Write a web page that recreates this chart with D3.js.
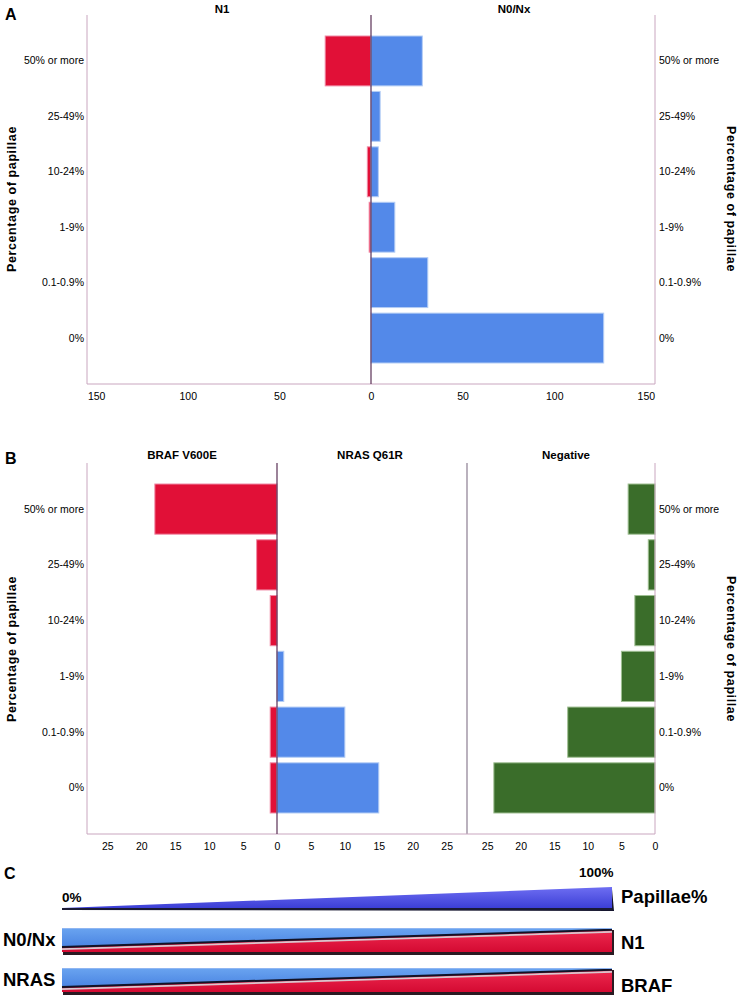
<!DOCTYPE html>
<html><head><meta charset="utf-8">
<script src="https://cdn.jsdelivr.net/npm/d3@7/dist/d3.min.js"></script>
<style>body{margin:0;background:#fff}svg{display:block}text{font-family:"Liberation Sans",Arial,sans-serif}</style>
</head><body>
<svg id="chart" width="741" height="1002"></svg>
<script>
// ---- data ----
const categories = ["50% or more","25-49%","10-24%","1-9%","0.1-0.9%","0%"];
const n1Counts   = [25, 0, 2, 1, 0, 0];
const n0nxCounts = [28, 5, 4, 13, 31, 127];
const brafCounts = [18, 3, 1, 0, 1, 1];
const nrasCounts = [0, 0, 0, 1, 10, 15];
const negCounts  = [4, 1, 3, 5, 13, 24];
const ticksA = [-150,-100,-50,0,50,100,150];
const ticksB = [-25,-20,-15,-10,-5,0,5,10,15,20,25];
const ticksNeg = [25,20,15,10,5,0];
const titlesA = ["N1","N0/Nx"];
const titlesB = ["BRAF V600E","NRAS Q61R","Negative"];
const yTitle = "Percentage of papillae";
const cLeft = ["N0/Nx","NRAS"];
const cRight = ["N1","BRAF"];
const cPct = [0, 100];

const RED="#e11037", BLUE="#5389e9", GREEN="#3a6d2a";
const FRAME="#c9a6bf", ZERO="#5a2f55";
const svg = d3.select("#chart");

function panelLetter(t,x,y){svg.append("text").attr("x",x).attr("y",y).attr("font-size",16).attr("font-weight","bold").text(t);}
function yTitles(cy){
  svg.append("text").attr("transform",`translate(16,${cy}) rotate(-90)`).attr("text-anchor","middle")
    .attr("font-size",12.5).attr("font-weight","bold").attr("letter-spacing",0.6).text(yTitle);
  svg.append("text").attr("transform",`translate(727,${cy}) rotate(90)`).attr("text-anchor","middle")
    .attr("font-size",12.5).attr("font-weight","bold").attr("letter-spacing",0.6).text(yTitle);
}
function catLabels(y){
  categories.forEach(c=>{
    const cy=y(c)+y.bandwidth()/2+3.5;
    svg.append("text").attr("x",84).attr("y",cy).attr("text-anchor","end").attr("font-size",10.5).text(c);
    svg.append("text").attr("x",659).attr("y",cy).attr("font-size",10.5).text(c);
  });
}
function bars(x,y,vals,neg,fill,stroke){
  svg.append("g").selectAll("rect").data(vals.map((v,i)=>({v,c:categories[i]})).filter(d=>d.v>0)).join("rect")
    .attr("x",d=>neg?x(-d.v):x(0)).attr("width",d=>Math.abs(x(d.v)-x(0)))
    .attr("y",d=>y(d.c)).attr("height",y.bandwidth())
    .attr("fill",fill).attr("stroke",stroke).attr("stroke-width",1);
}
function axisAt(x,ticks,yPos){
  const g=svg.append("g").attr("transform",`translate(0,${yPos})`)
    .call(d3.axisBottom(x).tickValues(ticks).tickSize(0).tickPadding(9).tickFormat(d=>Math.abs(d)));
  g.select(".domain").remove();
  g.selectAll("text").attr("font-size",10.5).attr("font-family","Liberation Sans, Arial").attr("fill","#000");
}

// ---- Panel A ----
const xA = d3.scaleLinear().domain([-155,155]).range([87,655]);
const yA = d3.scaleBand().domain(categories).range([36,363]).paddingInner(0.1).paddingOuter(0);
const topA=15, botA=384;
panelLetter("A",5,20);
svg.append("text").attr("x",222).attr("y",13).attr("text-anchor","middle").attr("font-size",11.5).attr("font-weight","bold").text(titlesA[0]);
svg.append("text").attr("x",514).attr("y",13).attr("text-anchor","middle").attr("font-size",11.5).attr("font-weight","bold").text(titlesA[1]);
bars(xA,yA,n1Counts,true,RED,"#f08aa5");
bars(xA,yA,n0nxCounts,false,BLUE,"#b4cdf5");
[xA.range()[0],xA.range()[1]].forEach(px=>svg.append("line").attr("x1",px).attr("x2",px).attr("y1",topA).attr("y2",botA).attr("stroke",FRAME).attr("stroke-width",1));
svg.append("line").attr("x1",87).attr("x2",655).attr("y1",botA).attr("y2",botA).attr("stroke",FRAME);
svg.append("line").attr("x1",xA(0)).attr("x2",xA(0)).attr("y1",topA).attr("y2",botA).attr("stroke",ZERO).attr("stroke-width",1.2);
axisAt(xA,ticksA,botA);
catLabels(yA);
yTitles(199);

// ---- Panel B ----
const xB = d3.scaleLinear().domain([-28,28]).range([87,467]);
const xN = d3.scaleLinear().domain([28,0]).range([467,655]);
const yB = d3.scaleBand().domain(categories).range([484,813]).paddingInner(0.1).paddingOuter(0);
const topB=463, botB=834;
panelLetter("B",5,464);
[[titlesB[0],182],[titlesB[1],370],[titlesB[2],566]].forEach(([t,x])=>
  svg.append("text").attr("x",x).attr("y",459).attr("text-anchor","middle").attr("font-size",11.5).attr("font-weight","bold").text(t));
bars(xB,yB,brafCounts,true,RED,"#f08aa5");
bars(xB,yB,nrasCounts,false,BLUE,"#b4cdf5");
svg.append("g").selectAll("rect").data(negCounts.map((v,i)=>({v,c:categories[i]})).filter(d=>d.v>0)).join("rect")
  .attr("x",d=>xN(d.v)).attr("width",d=>xN(0)-xN(d.v)).attr("y",d=>yB(d.c)).attr("height",yB.bandwidth())
  .attr("fill",GREEN).attr("stroke","#9fbf92").attr("stroke-width",1);
[87,655].forEach(px=>svg.append("line").attr("x1",px).attr("x2",px).attr("y1",topB).attr("y2",botB).attr("stroke",FRAME));
svg.append("line").attr("x1",467).attr("x2",467).attr("y1",topB).attr("y2",botB).attr("stroke","#8c7e92").attr("stroke-width",1.2);
svg.append("line").attr("x1",87).attr("x2",655).attr("y1",botB).attr("y2",botB).attr("stroke",FRAME);
svg.append("line").attr("x1",xB(0)).attr("x2",xB(0)).attr("y1",topB).attr("y2",botB).attr("stroke",ZERO).attr("stroke-width",1.2);
axisAt(xB,ticksB,botB);
axisAt(xN,ticksNeg,botB);
catLabels(yB);
yTitles(649);

// ---- Panel C ----
panelLetter("C",4,879);
const xC = d3.scaleLinear().domain([0,100]).range([62,612]);
const hTri = d3.scaleLinear().domain([0,100]).range([0,21]);
const defs = svg.append("defs");
function grad(id,c1,c2){const g=defs.append("linearGradient").attr("id",id).attr("x1",0).attr("y1",0).attr("x2",0).attr("y2",1);
  g.append("stop").attr("offset","0%").attr("stop-color",c1);g.append("stop").attr("offset","100%").attr("stop-color",c2);}
grad("gTri","#6e6ef2","#3c3fd6");
grad("gBlue","#6aa4f0","#4a84e2");
grad("gRed","#ee2a50","#d40a32");
const triBase=908;
svg.append("path").attr("d",`M${xC(0)},${triBase+2}L${xC(100)},${triBase-hTri(100)+2}L${xC(100)+2},${triBase+3}Z`).attr("fill","#15152e");
svg.append("path").attr("d",`M${xC(0)},${triBase}L${xC(100)},${triBase-hTri(100)}L${xC(100)},${triBase}Z`).attr("fill","url(#gTri)");
svg.append("line").attr("x1",xC(0)).attr("x2",xC(100)).attr("y1",triBase+1).attr("y2",triBase+1).attr("stroke","#1a1a35").attr("stroke-width",2);
svg.append("text").attr("x",xC(0)).attr("y",902).attr("font-size",13.5).attr("font-weight","bold").text(cPct[0]+"%");
svg.append("text").attr("x",xC(100)-33).attr("y",877).attr("font-size",13.5).attr("font-weight","bold").text(cPct[1]+"%");
svg.append("text").attr("x",621).attr("y",903).attr("font-size",18.5).attr("font-weight","bold").text("Papillae%");

const bandsC=[{top:928,bot:952,l:cLeft[0],r:cRight[0],ly:946,ry:949},{top:968,bot:992,l:cLeft[1],r:cRight[1],ly:986,ry:992}];
const split=d3.scaleLinear().domain([0,100]).range([0.79,0.07]);
bandsC.forEach(b=>{
  const h=b.bot-b.top, x0=xC(0), x1=xC(100);
  const s0=b.top+h*split(0), s1=b.top+h*split(100);
  svg.append("rect").attr("x",x0+1).attr("y",b.top+2).attr("width",x1-x0+1).attr("height",h+1).attr("fill","#2a1a22");
  svg.append("path").attr("d",`M${x0},${b.top}L${x1},${b.top}L${x1},${s1}L${x0},${s0}Z`).attr("fill","url(#gBlue)");
  svg.append("path").attr("d",`M${x0},${s0}L${x1},${s1}L${x1},${b.bot}L${x0},${b.bot}Z`).attr("fill","url(#gRed)");
  svg.append("line").attr("x1",x0).attr("x2",x1).attr("y1",s0+2.2).attr("y2",s1+2.2).attr("stroke","#d9c8cf").attr("stroke-width",1.8);
  svg.append("line").attr("x1",x0).attr("x2",x1).attr("y1",s0).attr("y2",s1).attr("stroke","#121225").attr("stroke-width",2);
  svg.append("line").attr("x1",x0).attr("x2",x1).attr("y1",b.top+0.5).attr("y2",b.top+0.5).attr("stroke","#8fb6f2").attr("stroke-width",1);
  svg.append("text").attr("x",3).attr("y",b.ly).attr("font-size",18.5).attr("font-weight","bold").text(b.l);
  svg.append("text").attr("x",621).attr("y",b.ry).attr("font-size",18.5).attr("font-weight","bold").text(b.r);
});
</script>
</body></html>
